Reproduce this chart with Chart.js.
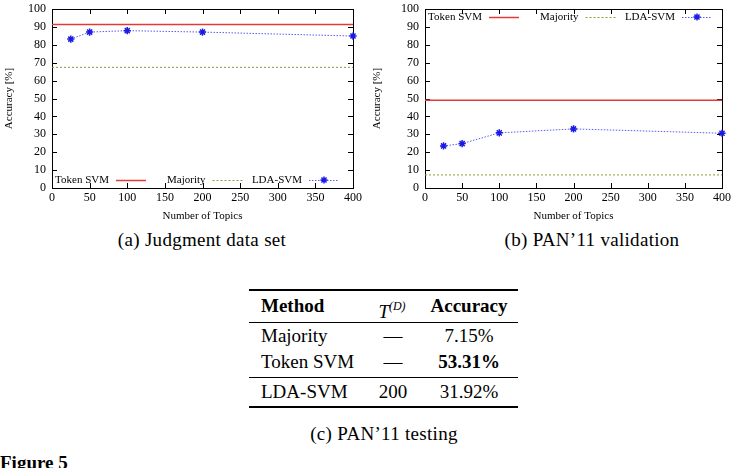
<!DOCTYPE html>
<html>
<head>
<meta charset="utf-8">
<script src="https://cdn.jsdelivr.net/npm/chart.js@4"></script>
<style>
  body { margin: 0; background: #fff; width: 738px; height: 468px; overflow: hidden; position: relative; font-family: "Liberation Serif", serif; color: #000; }
  canvas { position: absolute; top: 0; }
  .cap { position: absolute; font-size: 19px; letter-spacing: 0.3px; white-space: nowrap; transform: translateX(-50%); line-height: 24px; }
  .cell { position: absolute; font-size: 19px; line-height: 24px; white-space: nowrap; }
  .rule { position: absolute; left: 249px; width: 269px; background: #000; }
</style>
</head>
<body>
<canvas id="judgmentChart" width="368" height="228" style="left:0"></canvas>
<canvas id="panChart" width="370" height="228" style="left:368px"></canvas>

<div class="cap" style="left:202px; top:228px">(a) Judgment data set</div>
<div class="cap" style="left:592px; top:228px">(b) PAN’11 validation</div>

<div id="table"></div>
<div class="cap" style="left:384px; top:422px">(c) PAN’11 testing</div>
<div class="cell" style="left:0; top:451px; font-weight:bold">Figure 5</div>

<script>
// Values
const topics = [25, 50, 100, 200, 400];
const xRange = [0, 400];
const seriesNames = ['Token SVM', 'Majority', 'LDA-SVM'];

const judgmentToken = [91.4, 91.4];
const judgmentMajority = [67.4, 67.4];
const judgmentLda = [83.2, 87.1, 87.9, 87.1, 84.9];

const panToken = [49.0, 49.0];
const panMajority = [7.3, 7.3];
const panLda = [23.5, 24.8, 30.8, 33.0, 30.6];

// Table (c)
const tableMethods = ['Majority', 'Token SVM', 'LDA-SVM'];
const tableTopics = ['—', '—', '200'];
const tableAccuracy = ['7.15%', '53.31%', '31.92%'];
const bestRow = 1;

// Box with inward ticks, gnuplot style
const frame = {
    id: 'frame',
    beforeDatasetsDraw(chart) {
        const { ctx, chartArea: a, scales: { x, y } } = chart;
        ctx.save();
        ctx.strokeStyle = '#000';
        ctx.lineWidth = 1;
        ctx.strokeRect(Math.round(a.left) + 0.5, Math.round(a.top) + 0.5,
            Math.round(a.right - a.left), Math.round(a.bottom - a.top));
        ctx.beginPath();
        x.ticks.forEach(t => {
            const px = Math.round(x.getPixelForValue(t.value)) + 0.5;
            ctx.moveTo(px, a.bottom); ctx.lineTo(px, a.bottom - 5);
            ctx.moveTo(px, a.top); ctx.lineTo(px, a.top + 5);
        });
        y.ticks.forEach(t => {
            const py = Math.round(y.getPixelForValue(t.value)) + 0.5;
            ctx.moveTo(a.left, py); ctx.lineTo(a.left + 5, py);
            ctx.moveTo(a.right, py); ctx.lineTo(a.right - 5, py);
        });
        ctx.stroke();
        ctx.restore();
    }
};

// Key inside the plot: text right aligned, then the line sample
const key = {
    id: 'key',
    afterDatasetsDraw(chart, args, opts) {
        const { ctx, chartArea: a } = chart;
        const yKey = opts.edge === 'top' ? a.top + 8 : a.bottom - 8;
        ctx.save();
        ctx.font = '11px "Liberation Serif"';
        ctx.textAlign = 'right';
        ctx.textBaseline = 'middle';
        chart.data.datasets.forEach((ds, i) => {
            const x0 = a.left + 64 + i * 96.5;
            ctx.fillStyle = '#000';
            ctx.fillText(ds.label, x0 - 7, yKey);
            ctx.strokeStyle = ds.borderColor;
            ctx.lineWidth = ds.borderWidth;
            ctx.setLineDash(ds.borderDash || []);
            ctx.beginPath();
            ctx.moveTo(x0, yKey + 0.5);
            ctx.lineTo(x0 + 30, yKey + 0.5);
            ctx.stroke();
            ctx.setLineDash([]);
            if (ds.pointRadius > 0) {
                ctx.strokeStyle = ds.pointBorderColor;
                ctx.lineWidth = ds.pointBorderWidth;
                Chart.helpers.drawPoint(ctx, { pointStyle: ds.pointStyle, radius: ds.pointRadius, rotation: 0, borderWidth: ds.pointBorderWidth }, x0 + 15, yKey);
            }
        });
        ctx.restore();
    }
};

function makeChart(id, token, majority, lda, yAxisWidth, rightPad, keyEdge) {
    const flat = vals => vals.map((v, i) => ({ x: xRange[i], y: v }));
    const tickFont = { family: 'Liberation Serif', size: 12 };
    const titleFont = { family: 'Liberation Serif', size: 11 };
    return new Chart(document.getElementById(id), {
        type: 'line',
        data: {
            datasets: [{
                label: seriesNames[0],
                data: flat(token),
                borderColor: '#e03a3a',
                borderWidth: 1.5,
                pointRadius: 0
            }, {
                label: seriesNames[1],
                data: flat(majority),
                borderColor: '#8f9a2c',
                borderWidth: 1,
                borderDash: [2, 2],
                pointRadius: 0
            }, {
                label: seriesNames[2],
                data: lda.map((v, i) => ({ x: topics[i], y: v })),
                borderColor: '#5b5bf0',
                borderWidth: 1,
                borderDash: [1.5, 1.5],
                pointStyle: 'star',
                pointRadius: 3.6,
                pointBorderColor: '#1a1ae6',
                pointBorderWidth: 1.5,
                clip: false
            }]
        },
        options: {
            responsive: false,
            animation: false,
            layout: { padding: { top: 9, right: rightPad, left: 0, bottom: 0 } },
            plugins: {
                legend: { display: false },
                tooltip: { enabled: false },
                key: { edge: keyEdge }
            },
            scales: {
                x: {
                    type: 'linear',
                    min: 0, max: 400,
                    afterFit: s => { s.height = 40; s.paddingLeft = 0; s.paddingRight = 0; },
                    ticks: { stepSize: 50, padding: 3, color: '#000', font: tickFont },
                    grid: { display: false, drawTicks: false },
                    border: { display: false },
                    title: { display: true, text: 'Number of Topics', color: '#000', padding: { top: 0, bottom: 5 }, font: titleFont }
                },
                y: {
                    min: 0, max: 100,
                    afterFit: s => { s.width = yAxisWidth; s.paddingTop = 0; s.paddingBottom = 0; },
                    ticks: { stepSize: 10, padding: 6, color: '#000', font: tickFont },
                    grid: { display: false, drawTicks: false },
                    border: { display: false },
                    title: { display: true, text: 'Accuracy [%]', color: '#000', padding: { top: 3, bottom: 0 }, font: titleFont }
                }
            }
        },
        plugins: [frame, key]
    });
}

makeChart('judgmentChart', judgmentToken, judgmentMajority, judgmentLda, 52, 15, 'bottom');
makeChart('panChart', panToken, panMajority, panLda, 57, 16, 'top');

// Build table (c)
function buildTable() {
    const t = document.getElementById('table');
    const rules = [[290, 1.6], [322, 1], [377, 1], [407, 1.6]];
    rules.forEach(([top, h]) => {
        const r = document.createElement('div');
        r.className = 'rule';
        r.style.top = (top - h / 2) + 'px';
        r.style.height = h + 'px';
        t.appendChild(r);
    });
    const cell = (text, left, center, html, style) => {
        const d = document.createElement('div');
        d.className = 'cell';
        if (html) d.innerHTML = text; else d.textContent = text;
        d.style.left = left + 'px';
        d.style.top = (center - 12) + 'px';
        if (style) Object.assign(d.style, style);
        t.appendChild(d);
        return d;
    };
    const centered = { transform: 'translateX(-50%)' };
    cell('Method', 261, 306, false, { fontWeight: 'bold' });
    cell('<i>T</i><sup style="font-size:12px;font-style:italic;vertical-align:8px">(D)</sup>', 392, 306, true, centered);
    cell('Accuracy', 469, 306, false, Object.assign({ fontWeight: 'bold' }, centered));
    const rowY = [336, 362, 392];
    tableMethods.forEach((m, i) => {
        cell(m, 261, rowY[i]);
        cell(tableTopics[i], 393, rowY[i], false, centered);
        const st = Object.assign({}, centered);
        if (i === bestRow) st.fontWeight = 'bold';
        cell(tableAccuracy[i], 469, rowY[i], false, st);
    });
}
buildTable();
</script>
</body>
</html>
